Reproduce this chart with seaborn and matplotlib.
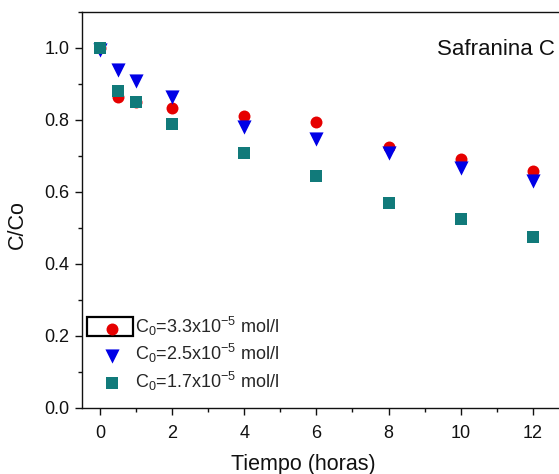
import matplotlib
matplotlib.use("Agg")
import matplotlib.pyplot as plt
import seaborn as sns
import pandas as pd
from matplotlib.patches import Rectangle
from matplotlib.ticker import MultipleLocator

# ---- data ----
tiempo = [0, 0.5, 1, 2, 4, 6, 8, 10, 12]
c33 = [1.0, 0.864, 0.850, 0.832, 0.811, 0.794, 0.725, 0.691, 0.657]
c25 = [0.995, 0.938, 0.907, 0.864, 0.780, 0.746, 0.708, 0.667, 0.630]
c17 = [1.0, 0.880, 0.850, 0.790, 0.707, 0.644, 0.568, 0.524, 0.474]
labels = [r'C$_0$=3.3x10$^{-5}$ mol/l',
          r'C$_0$=2.5x10$^{-5}$ mol/l',
          r'C$_0$=1.7x10$^{-5}$ mol/l']
colors = ['#E60000', '#0000E6', '#117A7A']
markers = ['o', 'v', 's']
msizes = [8.6, 10.2, 8.0]

sns.set_theme(style='white')
plt.rcParams['font.family'] = ['Liberation Sans', 'DejaVu Sans']
plt.rcParams['mathtext.fontset'] = 'custom'
plt.rcParams['mathtext.rm'] = 'Liberation Sans'
plt.rcParams['mathtext.it'] = 'Liberation Sans'

fig = plt.figure(figsize=(5.59, 4.74), dpi=100)
ax = fig.add_axes([0.1467, 0.1399, 0.871, 0.8348])

for ys, lab, col, mk, ms in zip([c33, c25, c17], labels, colors, markers, msizes):
    df = pd.DataFrame({'t': tiempo, 'c': ys})
    sns.scatterplot(data=df, x='t', y='c', marker=mk, s=ms**2, color=col,
                    edgecolor=col, linewidth=0, label=lab, ax=ax, zorder=3)

ax.set_xlim(-0.5, 13)
ax.set_ylim(0, 1.1)
ax.xaxis.set_major_locator(MultipleLocator(2))
ax.xaxis.set_minor_locator(MultipleLocator(1))
ax.yaxis.set_major_locator(MultipleLocator(0.2))
ax.yaxis.set_minor_locator(MultipleLocator(0.1))
ax.yaxis.set_major_formatter(matplotlib.ticker.FormatStrFormatter('%.1f'))
ax.tick_params(which='major', direction='out', length=5.2, width=1, labelsize=13,
               pad=4, bottom=True, left=True, top=False, right=False, colors='#111111')
ax.tick_params(axis='x', which='major', pad=7.5)
ax.tick_params(which='minor', direction='out', length=3, width=1,
               bottom=True, left=True, top=False, right=False, colors='#111111')
for sp in ax.spines.values():
    sp.set_linewidth(1.0)
    sp.set_color('#111111')
    sp.set_visible(True)

ax.set_xlabel('Tiempo (horas)', fontsize=15.5, color='#111111')
ax.set_ylabel('C/Co', fontsize=15.5, color='#111111')
ax.xaxis.set_label_coords(0.454, -0.117)
ax.yaxis.set_label_coords(-0.111, 0.463)

ax.text(9.35, 0.98, 'Safranina C', fontsize=16, color='#111111',
        ha='left', va='baseline')

leg = ax.legend(loc='lower left', bbox_to_anchor=(0.010, 0.02), frameon=False,
                fontsize=13, handletextpad=0.25, labelspacing=0.22,
                borderaxespad=0.0, handlelength=2.0)

ax.add_patch(Rectangle((0.0103, 0.181), 0.0944, 0.048, transform=ax.transAxes,
                       fill=False, edgecolor='black', linewidth=1.6, zorder=5))

fig.savefig('out.png', dpi=100)
